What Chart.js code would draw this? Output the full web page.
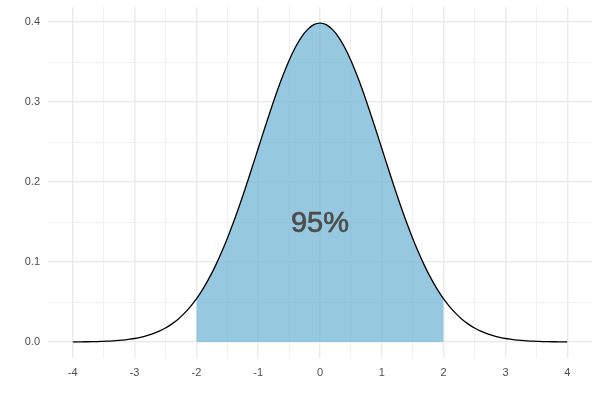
<!DOCTYPE html>
<html>
<head>
<meta charset="utf-8">
<script src="https://cdn.jsdelivr.net/npm/chart.js@4"></script>
<style>
  html, body { margin: 0; padding: 0; background: #fff; }
  #wrap { width: 600px; height: 400px; }
</style>
</head>
<body>
<div id="wrap"><canvas id="normalChart"></canvas></div>
<script>
// x positions and density values
var xValues = [
  -4.0, -3.9, -3.8, -3.7, -3.6, -3.5, -3.4, -3.3, -3.2, -3.1,
  -3.0, -2.9, -2.8, -2.7, -2.6, -2.5, -2.4, -2.3, -2.2, -2.1,
  -2.0, -1.9, -1.8, -1.7, -1.6, -1.5, -1.4, -1.3, -1.2, -1.1,
  -1.0, -0.9, -0.8, -0.7, -0.6, -0.5, -0.4, -0.3, -0.2, -0.1,
  0.0,
  0.1, 0.2, 0.3, 0.4, 0.5, 0.6, 0.7, 0.8, 0.9, 1.0,
  1.1, 1.2, 1.3, 1.4, 1.5, 1.6, 1.7, 1.8, 1.9, 2.0,
  2.1, 2.2, 2.3, 2.4, 2.5, 2.6, 2.7, 2.8, 2.9, 3.0,
  3.1, 3.2, 3.3, 3.4, 3.5, 3.6, 3.7, 3.8, 3.9, 4.0
];
var densityValues = [
  0.0001, 0.0002, 0.0003, 0.0004, 0.0006, 0.0009, 0.0012, 0.0017, 0.0024, 0.0033,
  0.0044, 0.0060, 0.0079, 0.0104, 0.0136, 0.0175, 0.0224, 0.0283, 0.0355, 0.0440,
  0.0540, 0.0656, 0.0790, 0.0940, 0.1109, 0.1295, 0.1497, 0.1714, 0.1942, 0.2179,
  0.2420, 0.2661, 0.2897, 0.3123, 0.3332, 0.3521, 0.3683, 0.3814, 0.3910, 0.3970,
  0.3989,
  0.3970, 0.3910, 0.3814, 0.3683, 0.3521, 0.3332, 0.3123, 0.2897, 0.2661, 0.2420,
  0.2179, 0.1942, 0.1714, 0.1497, 0.1295, 0.1109, 0.0940, 0.0790, 0.0656, 0.0540,
  0.0440, 0.0355, 0.0283, 0.0224, 0.0175, 0.0136, 0.0104, 0.0079, 0.0060, 0.0044,
  0.0033, 0.0024, 0.0017, 0.0012, 0.0009, 0.0006, 0.0004, 0.0003, 0.0002, 0.0001
];

// shaded interval and its label
var shadeFrom = -2;
var shadeTo = 2;
var shadeLabel = '95%';
var shadeLabelX = 0;
var shadeLabelY = 0.147;

// grid / tick positions
var xTicks = [-4, -3.5, -3, -2.5, -2, -1.5, -1, -0.5, 0, 0.5, 1, 1.5, 2, 2.5, 3, 3.5, 4];
var yTicks = [0, 0.05, 0.1, 0.15, 0.2, 0.25, 0.3, 0.35, 0.4];

var curvePoints = xValues.map((x, i) => ({ x: x, y: densityValues[i] }));
var shadePoints = curvePoints.filter(p => p.x >= shadeFrom - 1e-9 && p.x <= shadeTo + 1e-9);

function isMajor(v, step) {
    return Math.abs(v / step - Math.round(v / step)) < 1e-6;
}

// nhãn "95%" ở giữa vùng tô
var labelPlugin = {
    id: 'shadeLabel',
    afterDatasetsDraw(chart) {
        const ctx = chart.ctx;
        const px = chart.scales.x.getPixelForValue(shadeLabelX);
        const py = chart.scales.y.getPixelForValue(shadeLabelY);
        ctx.save();
        ctx.font = '29px "Liberation Sans", Arial, sans-serif';
        ctx.fillStyle = '#4d4d4d';
        ctx.strokeStyle = '#4d4d4d';
        ctx.lineWidth = 0.7;
        ctx.textAlign = 'center';
        ctx.textBaseline = 'middle';
        ctx.fillText(shadeLabel, px, py);
        ctx.strokeText(shadeLabel, px, py);
        ctx.restore();
    }
};

var tickFont = { family: '"Liberation Sans", Arial, sans-serif', size: 11 };

new Chart(document.getElementById('normalChart').getContext('2d'), {
    type: 'line',
    data: {
        datasets: [
            {
                data: curvePoints,
                borderColor: '#000000',
                borderWidth: 1.3,
                pointRadius: 0,
                tension: 0.4,
                fill: false,
                order: 0
            },
            {
                data: shadePoints,
                borderWidth: 0,
                borderColor: 'rgba(0,0,0,0)',
                backgroundColor: 'rgba(110,180,210,0.72)',
                pointRadius: 0,
                tension: 0.4,
                fill: 'origin',
                order: 1
            }
        ]
    },
    options: {
        responsive: true,
        maintainAspectRatio: false,
        animation: false,
        layout: { padding: { top: 7, right: 8, left: 0, bottom: 0 } },
        plugins: { legend: { display: false }, tooltip: { enabled: false } },
        scales: {
            x: {
                type: 'linear',
                min: -4.4,
                max: 4.4,
                afterBuildTicks: s => { s.ticks = xTicks.map(v => ({ value: v })); },
                afterFit: s => { s.height = 42; s.paddingLeft = 0; s.paddingRight = 0; },
                border: { display: false },
                grid: {
                    drawTicks: false,
                    color: c => isMajor(c.tick.value, 1) ? '#ebebeb' : '#f0f0f0',
                    lineWidth: c => isMajor(c.tick.value, 1) ? 1.5 : 1
                },
                ticks: {
                    autoSkip: false,
                    maxRotation: 0,
                    padding: 8,
                    color: '#4d4d4d',
                    font: tickFont,
                    callback: v => isMajor(v, 1) ? String(Math.round(v)) : ''
                }
            },
            y: {
                min: -0.02,
                max: 0.419,
                afterBuildTicks: s => { s.ticks = yTicks.map(v => ({ value: v })); },
                afterFit: s => { s.width = 48; s.paddingTop = 0; s.paddingBottom = 0; },
                border: { display: false },
                grid: {
                    drawTicks: false,
                    color: c => isMajor(c.tick.value, 0.1) ? '#ebebeb' : '#f0f0f0',
                    lineWidth: c => isMajor(c.tick.value, 0.1) ? 1.5 : 1
                },
                ticks: {
                    autoSkip: false,
                    padding: 8,
                    color: '#4d4d4d',
                    font: tickFont,
                    callback: v => isMajor(v, 0.1) ? v.toFixed(1) : ''
                }
            }
        }
    },
    plugins: [labelPlugin]
});
</script>
</body>
</html>
